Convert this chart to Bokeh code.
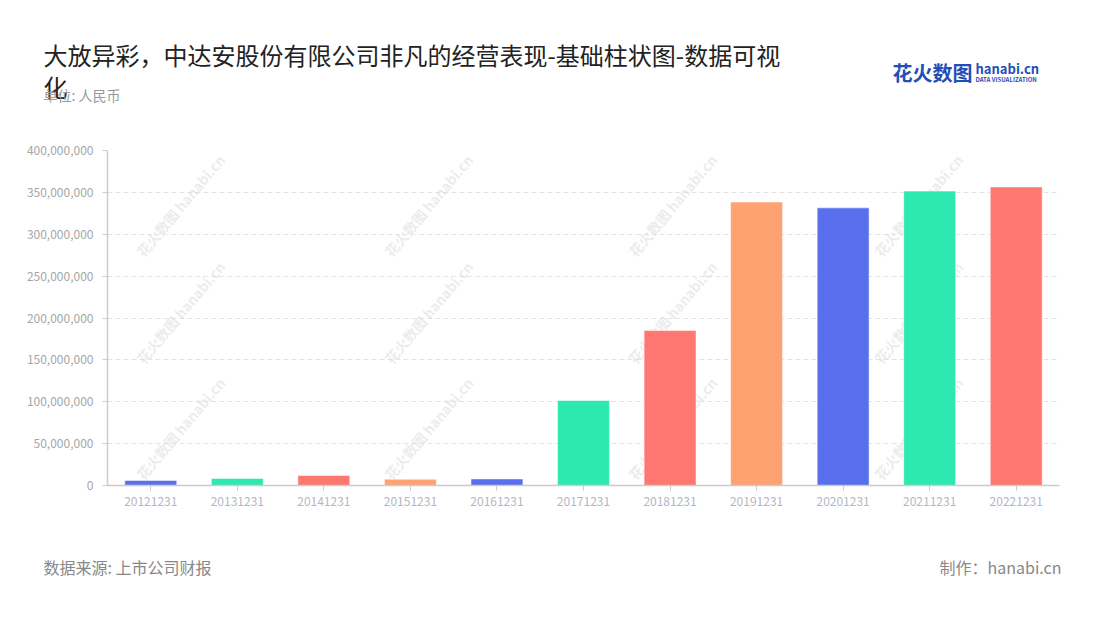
from bokeh.plotting import figure
from bokeh.layouts import column
from bokeh.models import Label, NumeralTickFormatter, FixedTicker, Range1d
from bokeh.embed import file_html
from bokeh.resources import INLINE

categories = ["20121231", "20131231", "20141231", "20151231", "20161231", "20171231",
              "20181231", "20191231", "20201231", "20211231", "20221231"]
values = [6000000, 8400000, 12000000, 7500000, 7800000, 101500000,
          185000000, 338500000, 331500000, 351500000, 356500000]
palette = ["#596FEE", "#2EE8B2", "#FF7771", "#FFA271"]
colors = [palette[i % 4] for i in range(len(categories))]
y_ticks = [0, 50000000, 100000000, 150000000, 200000000, 250000000, 300000000, 350000000, 400000000]

title_line1 = "大放异彩，中达安股份有限公司非凡的经营表现-基础柱状图-数据可视"
title_line2 = "化"
subtitle = "单位: 人民币"
source_text = "数据来源: 上市公司财报"
maker_text = "制作：hanabi.cn"
watermark_text = "花火数图 hanabi.cn"

FONT = "Noto Sans CJK SC"
W = 1084
HEAD_H, MAIN_H, FOOT_H = 140, 380, 84


def blank(h):
    f = figure(width=W, height=h, x_range=Range1d(0, W), y_range=Range1d(0, h),
               x_axis_type=None, y_axis_type=None, output_backend="svg",
               toolbar_location=None, min_border=0)
    f.outline_line_color = None
    f.xgrid.visible = False
    f.ygrid.visible = False
    f.background_fill_color = "white"
    f.border_fill_color = "white"
    f.frame_align = False
    return f


head = blank(HEAD_H)
foot = blank(FOOT_H)

p = figure(width=W, height=MAIN_H, x_range=categories, y_range=Range1d(0, 400000000),
           output_backend="svg", toolbar_location=None,
           min_border_left=107, min_border_right=25, min_border_top=10, min_border_bottom=35)
p.frame_align = False
p.outline_line_color = None
p.background_fill_color = "white"
p.border_fill_color = "white"

# faint watermarks (inside the chart frame)
for cx in [180, 428, 672, 918]:
    for cy in [205, 312, 428]:
        p.add_layout(Label(x=cx, y=cy - HEAD_H, x_units="canvas", y_units="canvas",
                           text=watermark_text, text_font=FONT, text_font_size="14px",
                           text_font_style="bold", text_color="#d9d9d9", text_alpha=0.5,
                           angle=0.87, text_align="center", text_baseline="middle",
                           level="underlay"))

p.vbar(x=categories, top=values, width=0.6, fill_color=colors,
       line_color="white", line_alpha=0.5, line_width=1)

p.yaxis.ticker = FixedTicker(ticks=y_ticks)
p.yaxis.formatter = NumeralTickFormatter(format="0,0")
for ax in (p.xaxis, p.yaxis):
    ax.axis_line_color = "#cccccc"
    ax.axis_line_width = 1.5
    ax.major_tick_line_color = "#cccccc"
    ax.major_tick_in = 0
    ax.major_tick_out = 5
    ax.minor_tick_line_color = None
    ax.major_label_text_font = FONT
    ax.major_label_text_font_size = "12px"
p.yaxis.major_label_text_color = "#a6a6a6"
p.xaxis.major_label_text_color = "#b3b7c4"
p.xaxis.major_label_standoff = 6
p.yaxis.major_label_standoff = 9

p.xgrid.grid_line_color = None
p.ygrid.grid_line_color = "#e3e3e3"
p.ygrid.grid_line_dash = "5 3"
p.ygrid.grid_line_width = 1


def lab(fig, x, y, text, size, color, align="left", style="normal", baseline="top"):
    fig.add_layout(Label(x=x, y=y, x_units="canvas", y_units="canvas", text=text,
                         text_font=FONT, text_font_size=size, text_color=color,
                         text_align=align, text_baseline=baseline, text_font_style=style))


lab(head, 43, 36, title_line1, "24px", "#222222")
lab(head, 43, 68, title_line2, "24px", "#222222")
lab(head, 43, 84, subtitle, "14px", "#999999")

# logo
lab(head, 892, 57, "花火数图", "20px", "#1f4fb8", style="bold")
lab(head, 975, 58, "hanabi.cn", "13px", "#1f4fb8", style="bold")
lab(head, 975, 74, "DATA VISUALIZATION", "6px", "#1f4fb8", style="bold")

FOOT_TOP = HEAD_H + MAIN_H
lab(foot, 43, 554 - FOOT_TOP, source_text, "16px", "#888888")
lab(foot, 1061, 554 - FOOT_TOP, maker_text, "16px", "#888888", align="right")

layout = column(head, p, foot, spacing=0)
open("out.html", "w").write(file_html(layout, INLINE))
